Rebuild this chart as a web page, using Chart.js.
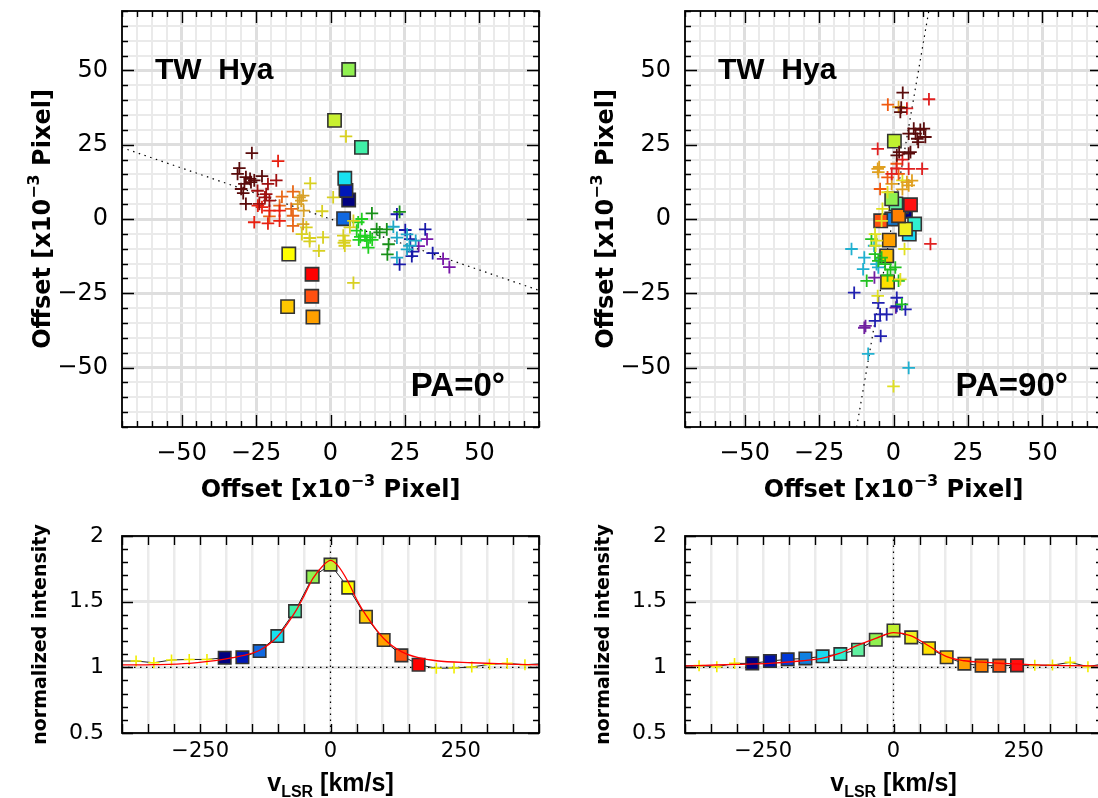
<!DOCTYPE html>
<html>
<head>
<meta charset="utf-8">
<title>TW Hya spectro-astrometry</title>
<script src="https://cdn.jsdelivr.net/npm/chart.js@4.4.1/dist/chart.umd.min.js"></script>
<style>
  html, body { margin: 0; padding: 0; background: #fff; overflow: hidden; width: 1098px; height: 798px; }
  canvas { position: absolute; }
</style>
</head>
<body>
<canvas id="tl" width="560" height="520" style="left:0;top:0"></canvas>
<canvas id="tr" width="560" height="520" style="left:563px;top:0"></canvas>
<canvas id="bl" width="560" height="278" style="left:0;top:520px"></canvas>
<canvas id="br" width="560" height="278" style="left:563px;top:520px"></canvas>
<script>
// ---- velocity-channel colours (blue -> red) ----
const blSqColors = ['#000080', '#0018b8', '#1068e0', '#18e0f0', '#40f0a8', '#90f050',
                    '#c8f030', '#ffff00', '#ffc800', '#ffa000', '#ff5010', '#ff0000'];
const brSqColors = ['#000080', '#0010a8', '#0038d8', '#1080e0', '#18d8f0', '#30f0d0', '#60f0a0', '#90f050',
                    '#c0f030', '#f0f020', '#ffe000', '#ffc000', '#ffa000', '#ff8000', '#ff5010', '#ff1010'];

// ---- PA=0 : offsets [x1e-3 pixel] ----
const tlSqX = [6.1, 5.2, 4.4, 4.8, 10.4, 6.1, 1.35, -14, -14.4, -5.9, -6.3, -6.2];
const tlSqY = [6.4, 9.6, 0.1, 13.7, 24.1, 50.3, 33.2, -11.8, -29.5, -33, -26, -18.6];
const tlMaroon = [[-26.4, 22.2], [-30.6, 17.1], [-31.2, 15.2], [-28.4, 14.1], [-27, 13.5], [-23, 14.4],
                  [-28.9, 11.8], [-29.3, 8.7], [-28.4, 5.1], [-25.6, 13], [-26.7, 12.4], [-30, 10.1]];
const tlDarkRed = [[-21, 11.8], [-21.6, 8.4], [-23.9, 5.1], [-20.5, 6.2], [-22, 7.3], [-18.2, 13], [-24.5, 9.5]];
const tlRed = [[-17.6, 19.5], [-25.6, -1.1], [-21, -1.5], [-24.4, 4.5], [-17.1, -0.6], [-17.1, 2.8],
               [-20.5, 2.8], [-23, 4]];
const tlOrange = [[-16.3, 7.5], [-12.6, 9.2], [-20.5, 0.9], [-13.2, 3.4], [-12.6, 1.1], [-12.6, -2.3], [-17.1, 4.5]];
const tlGold = [[-10.4, 7.3], [-9.2, 7.9], [-9.8, 6.2], [-9, 2.8], [-9.2, -1.7], [-11, 5]];
const tlYellow = [[-6.8, 12], [-2.8, 2.6], [-9.6, -5.1], [-7, -6.4], [-2.5, -6.2], [-3.9, -10.7], [0.9, 7.3],
                  [5.2, 27.8], [4.8, -7.3], [4.8, -9], [4.3, -5.6], [7.7, -21.5], [7.7, -0.6], [6.5, -2.8],
                  [-8.1, -2.8], [-7, -7.5], [4.5, -8]];
const tlGreen = [[10.5, 0], [9.3, -1.1], [13.3, -6.2], [12.2, -7.3], [12.7, -9.6], [8.8, -3.9], [11.6, -5.6],
                 [10, -6], [14, -7], [9.5, -7]];
const tlDkGreen = [[13.9, 1.9], [15.5, -3.4], [19.1, -11.9], [23.2, 2.4], [19.5, -8.5], [18.9, -3.5], [16.5, -4.5]];
const tlTeal = [[21.1, -2.6], [22.3, -13], [22.3, -6.3], [25.7, -10.2], [28.6, -7.3], [25.7, -5.2], [26.5, -9]];
const tlBlue = [[22.3, 1.6], [25.1, -3.7], [23.2, -15.3], [27.3, -12.5], [31.8, -3.5], [34.3, -11.5],
                [26.8, -6.8], [27.5, -11]];
const tlPurple = [[32.4, -6.8], [29.6, -9.1], [37.8, -13.4], [39.9, -16.2]];
const tlAxisX = [-72, 72];
const tlAxisY = [24.7, -24.7];

// ---- PA=90 ----
const trSqX = [4, 1.7, 2.7, -0.6, 5.3, 7.1, 0.8, -0.6, 0.3, 4, -2, -2.3, -1.4, 1.7, -4.3, 5.7];
const trSqY = [2.6, 3.4, 4.1, 0, -5.1, -1.7, 5.1, 6.8, 26.2, -3.4, -21.2, -12.4, -7.1, 1.1, -0.6, 4.8];
const trMaroon = [[3.1, 42.5], [2.3, 36], [2.6, 37.5], [6.8, 30.4], [10.2, 30.4], [7.4, 28.7], [10.7, 27.6],
                  [8.3, 25.9], [5.1, 28.7], [5.7, 22.5], [5.1, 22], [1.1, 21.4], [1.9, 22.5], [9, 30], [8, 27]];
const trRed = [[11.9, 40.3], [-5.3, 23.6], [9.6, 16.9], [12.4, -8.4], [5.1, 16.9], [-0.6, 15.2], [4.5, 37.2],
               [3, 20], [1, 17]];
const trOrange = [[-1.9, 38.5], [1.1, 18.6], [-4.5, 10.1], [1.7, 15.2], [-2, 14]];
const trGold = [[-5.3, 16.9], [-5.1, 15.8], [5.1, 11.3], [4.5, 12.4], [6.2, 12.9], [1.7, 37.7], [-0.6, 11.8],
                [-4.8, 17.5], [3, 10]];
const trYellow = [[-3.7, 3.4], [-4, -0.6], [3.7, -10.1], [-6.2, -5.1], [2.3, -20.3], [0, -56.3], [-5.3, -25.9],
                  [-5.7, -7.3], [-2, 9], [3, 13], [-6, -9]];
const trGreen = [[-7.4, -6.8], [-6.2, -11.8], [-2.8, -15.2], [0.6, -16.3], [-9, -20.8], [1.7, -20.8],
                 [-5.1, -14.1], [-1, -17], [2.8, -28.7], [-4, -13], [-2, -19]];
const trCyan = [[-14.1, -10.1], [-9.8, -13], [-10.2, -16.9], [-5.1, -16.3], [-8.5, -45.4], [5.1, -50.1],
                [-5.7, -15.2], [-6.5, -9]];
const trBlue = [[-13.2, -24.8], [-5.1, -28.2], [1.1, -26.5], [4, -30.4], [-6.2, -34.3], [-4.5, -32.1],
                [-2.3, -32.1], [-4.3, -39.4], [1.1, -29.3]];
const trPurple = [[-9.8, -36.6], [-6.4, -19.7], [0.8, -29.8], [-9.4, -36]];
const trAxisX = [-12.7, 12.2];
const trAxisY = [-72, 72];

// ---- spectra: v_LSR [km/s] vs normalized intensity ----
const blSqVel = [-203, -169, -136, -102, -68, -34, 0, 34, 68, 102, 136, 169];
const blSqFlux = [1.073, 1.076, 1.124, 1.238, 1.428, 1.689, 1.782, 1.607, 1.385, 1.208, 1.091, 1.02];
const blCrossVel = [-373, -339, -305, -271, -237, 203, 237, 271, 305, 339, 373];
const blCrossFlux = [1.048, 1.035, 1.056, 1.06, 1.06, 0.993, 0.995, 1.003, 1.023, 1.03, 1.02];
const blEdgeVel = [-407, 407];
const blEdgeFlux = [1.048, 1.028];
const blFitVel = [-400, -339, -271, -203, -169, -136, -102, -68, -50, -34, -14, 0, 13, 34, 51, 68, 102, 136, 169, 203, 271, 339, 400];
const blFitFlux = [1.018, 1.02, 1.03, 1.063, 1.089, 1.13, 1.233, 1.42, 1.55, 1.675, 1.776, 1.815, 1.78, 1.65, 1.51,
                   1.397, 1.22, 1.12, 1.073, 1.05, 1.035, 1.025, 1.018];

const brSqVel = [-271, -237, -203, -169, -136, -102, -68, -34, 0, 34, 68, 102, 136, 169, 203, 237];
const brSqFlux = [1.03, 1.048, 1.061, 1.068, 1.084, 1.101, 1.134, 1.21, 1.281, 1.228, 1.145, 1.077, 1.028, 1.013,
                  1.013, 1.015];
const brCrossVel = [-373, -339, -305, 271, 305, 339, 373];
const brCrossFlux = [1.013, 1.005, 1.03, 1.015, 1.017, 1.038, 1.005];
const brEdgeVel = [-407, 407];
const brEdgeFlux = [1.012, 1.03];
const brFitVel = [-400, -375, -302, -238, -174, -138, -104, -70, -34, 0, 34, 68, 102, 136, 169, 203, 237, 275, 340, 400];
const brFitFlux = [1.01, 1.013, 1.023, 1.03, 1.05, 1.068, 1.106, 1.165, 1.22, 1.265, 1.24, 1.162, 1.082, 1.05,
                   1.039, 1.031, 1.026, 1.018, 1.013, 1.011];

const specYTicks = [0.5, 0.6, 0.7, 0.8, 0.9, 1, 1.1, 1.2, 1.3, 1.4, 1.5, 1.6, 1.7, 1.8, 1.9, 2];
const refFlux = 1;
const refVel = 0;

const FONT = '"Liberation Sans", Arial, Helvetica, sans-serif';
const WIDE = '"DejaVu Sans", Verdana, sans-serif';
Chart.defaults.font.family = WIDE;
Chart.defaults.color = '#000';

const zip = (xs, ys) => xs.map((x, i) => ({ x, y: ys[i] }));
const pairs = arr => arr.map(p => ({ x: p[0], y: p[1] }));
const minus = v => (v < 0 ? '\u2212' + Math.abs(v) : String(v));
const near = (v, m) => Math.abs(v / m - Math.round(v / m)) < 1e-6;

// per-panel decorations
const panelText = {
  tl: { kind: 'top', pa: 'PA=0\u00b0' },
  tr: { kind: 'top', pa: 'PA=90\u00b0' },
  bl: { kind: 'spec' },
  br: { kind: 'spec' }
};

function drawRich(ctx, segs, x, y, rotate) {
  ctx.save();
  ctx.translate(x, y);
  if (rotate) ctx.rotate(-Math.PI / 2);
  let w = 0;
  segs.forEach(s => { ctx.font = s.f; s.w = ctx.measureText(s.t).width; w += s.w; });
  let cx = -w / 2;
  ctx.fillStyle = '#000';
  ctx.textAlign = 'left';
  ctx.textBaseline = 'alphabetic';
  segs.forEach(s => { ctx.font = s.f; ctx.fillText(s.t, cx, s.dy || 0); cx += s.w; });
  ctx.restore();
}

const offsetTitle = () => [
  { t: 'Offset [x10', f: 'bold 24px ' + WIDE },
  { t: '\u22123', f: 'bold 16px ' + WIDE, dy: -11 },
  { t: ' Pixel]', f: 'bold 24px ' + WIDE }
];

const frameTicks = {
  id: 'frameTicks',
  afterDraw(chart) {
    const cfg = panelText[chart.canvas.id];
    const { ctx, chartArea: a, scales: { x, y } } = chart;
    const top = cfg.kind === 'top';
    ctx.save();
    ctx.strokeStyle = '#000';
    ctx.lineWidth = 1.4;
    ctx.beginPath();
    x.ticks.forEach(t => {
      const px = Math.round(x.getPixelForValue(t.value)) + 0.5;
      const len = top ? (near(t.value, 25) ? 12 : 6) : 9;
      ctx.moveTo(px, a.bottom); ctx.lineTo(px, a.bottom - len);
      ctx.moveTo(px, a.top); ctx.lineTo(px, a.top + len);
    });
    y.ticks.forEach(t => {
      const py = Math.round(y.getPixelForValue(t.value)) + 0.5;
      const len = top ? (near(t.value, 25) ? 12 : 6) : (near(t.value, 0.5) ? 11 : 6);
      ctx.moveTo(a.left, py); ctx.lineTo(a.left + len, py);
      ctx.moveTo(a.right, py); ctx.lineTo(a.right - len, py);
    });
    ctx.stroke();
    ctx.lineWidth = 1.8;
    ctx.strokeRect(a.left, a.top, a.right - a.left, a.bottom - a.top);

    const cx = (a.left + a.right) / 2;
    const cy = (a.top + a.bottom) / 2;
    ctx.fillStyle = '#000';
    if (top) {
      ctx.font = 'bold 30px ' + FONT;
      ctx.textAlign = 'left';
      ctx.textBaseline = 'alphabetic';
      ctx.fillText('TW  Hya', a.left + 33, a.top + 68);
      ctx.font = 'bold 33px ' + FONT;
      ctx.textAlign = 'right';
      ctx.fillText(cfg.pa, a.right - 34, a.bottom - 31);
      drawRich(ctx, offsetTitle(), cx, a.bottom + 70, false);
      drawRich(ctx, offsetTitle(), a.left - 72, cy, true);
    } else {
      drawRich(ctx, [
        { t: 'v', f: 'bold 25px ' + FONT },
        { t: 'LSR', f: 'bold 16px ' + FONT, dy: 6 },
        { t: ' [km/s]', f: 'bold 25px ' + FONT }
      ], cx, a.bottom + 58, false);
      drawRich(ctx, [{ t: 'normalized intensity', f: 'bold 19px ' + WIDE }], a.left - 76, cy, true);
    }
    ctx.restore();
  }
};

function scaleOpts(kind, axis) {
  if (kind === 'top') {
    return {
      type: 'linear', min: -70, max: 70,
      ticks: {
        stepSize: 5, autoSkip: false, maxRotation: 0, minRotation: 0,
        padding: axis === 'x' ? 12 : 14,
        font: { size: 24 }, color: '#000',
        callback: v => (near(v, 25) ? minus(v) : '')
      },
      grid: {
        drawTicks: false,
        color: c => (c.tick && near(c.tick.value, 25) ? '#dedede' : '#eaeaea'),
        lineWidth: c => (c.tick && near(c.tick.value, 25) ? 3 : 2)
      },
      border: { display: false },
      afterFit: s => {
        if (axis === 'x') s.height = 93; else s.width = 122;
        s.paddingLeft = s.paddingRight = s.paddingTop = s.paddingBottom = 0;
      }
    };
  }
  if (axis === 'x') {
    return {
      type: 'linear', min: -400, max: 400,
      ticks: {
        stepSize: 50, autoSkip: false, maxRotation: 0, minRotation: 0, padding: 6,
        font: { size: 21 }, color: '#000',
        callback: v => (near(v, 250) ? minus(v) : '')
      },
      grid: { drawTicks: false, color: '#ebebeb', lineWidth: 2.5 },
      border: { display: false },
      afterFit: s => { s.height = 65; s.paddingLeft = s.paddingRight = s.paddingTop = s.paddingBottom = 0; }
    };
  }
  return {
    type: 'linear', min: 0.5, max: 2,
    afterBuildTicks: s => { s.ticks = specYTicks.map(v => ({ value: v })); },
    ticks: {
      autoSkip: false, padding: 18, font: { size: 22 }, color: '#000',
      callback: v => (near(v, 0.5) ? String(v) : '')
    },
    grid: {
      drawTicks: false,
      color: c => (c.tick && near(c.tick.value, 0.5) ? '#e6e6e6' : 'rgba(0,0,0,0)'),
      lineWidth: 3
    },
    border: { display: false },
    afterFit: s => { s.width = 122; s.paddingLeft = s.paddingRight = s.paddingTop = s.paddingBottom = 0; }
  };
}

function baseOptions(kind) {
  return {
    responsive: false,
    animation: false,
    events: [],
    layout: { padding: kind === 'top' ? { left: 0, top: 9, right: 21, bottom: 0 } : { left: 0, top: 16, right: 21, bottom: 0 } },
    plugins: { legend: { display: false }, tooltip: { enabled: false } },
    scales: { x: scaleOpts(kind, 'x'), y: scaleOpts(kind, 'y') }
  };
}

const dotted = (data) => ({
  data, showLine: true, pointRadius: 0, borderColor: '#000', borderWidth: 1.2,
  borderDash: [1.5, 4.5], fill: false, order: 6
});

function offsetChart(id, sqX, sqY, sqColors, groups, axX, axY) {
  const datasets = [dotted(zip(axX, axY))];
  datasets.push({
    data: zip(sqX, sqY), pointStyle: 'rect', pointRadius: 9.4,
    backgroundColor: sqColors, borderColor: '#333', borderWidth: 1.6, order: 3
  });
  groups.forEach(([pts, col]) => datasets.push({
    data: pairs(pts), pointStyle: 'cross', pointRadius: 6.3,
    borderColor: col, backgroundColor: col, borderWidth: 1.8, order: 2
  }));
  new Chart(document.getElementById(id), {
    type: 'scatter', data: { datasets }, options: baseOptions('top'), plugins: [frameTicks]
  });
}

function specChart(id, sqV, sqF, sqColors, crV, crF, edV, edF, fitV, fitF) {
  const all = zip(sqV, sqF).concat(zip(crV, crF), zip(edV, edF)).sort((a, b) => a.x - b.x);
  const datasets = [
    dotted([{ x: -400, y: refFlux }, { x: 400, y: refFlux }]),
    dotted([{ x: refVel, y: 0.5 }, { x: refVel, y: 2 }]),
    { data: all, showLine: true, pointRadius: 0, borderColor: '#222', borderWidth: 1, fill: false, order: 5 },
    { data: zip(sqV, sqF), pointStyle: 'rect', pointRadius: 8.8,
      backgroundColor: sqColors, borderColor: '#333', borderWidth: 1.6, order: 3 },
    { data: zip(crV, crF), pointStyle: 'cross', pointRadius: 5.5,
      borderColor: '#f2ee00', borderWidth: 1.6, order: 2 },
    { data: zip(fitV, fitF), showLine: true, pointRadius: 0, borderColor: '#ff0000', borderWidth: 1.3,
      cubicInterpolationMode: 'monotone', fill: false, order: 1 }
  ];
  new Chart(document.getElementById(id), {
    type: 'scatter', data: { datasets }, options: baseOptions('spec'), plugins: [frameTicks]
  });
}

offsetChart('tl', tlSqX, tlSqY, blSqColors, [
  [tlMaroon, '#5a0c0c'], [tlDarkRed, '#a01010'], [tlRed, '#e82010'], [tlOrange, '#e86818'],
  [tlGold, '#d8a028'], [tlYellow, '#d8d020'], [tlGreen, '#20d020'], [tlDkGreen, '#189018'],
  [tlTeal, '#20a8c8'], [tlBlue, '#1818a8'], [tlPurple, '#7818a8']
], tlAxisX, tlAxisY);

offsetChart('tr', trSqX, trSqY, brSqColors, [
  [trMaroon, '#5a0c0c'], [trRed, '#e02020'], [trOrange, '#f05a10'], [trGold, '#e0a020'],
  [trYellow, '#e0e020'], [trGreen, '#20c020'], [trCyan, '#20b0d0'], [trBlue, '#2020b0'], [trPurple, '#7020a0']
], trAxisX, trAxisY);

specChart('bl', blSqVel, blSqFlux, blSqColors, blCrossVel, blCrossFlux, blEdgeVel, blEdgeFlux, blFitVel, blFitFlux);
specChart('br', brSqVel, brSqFlux, brSqColors, brCrossVel, brCrossFlux, brEdgeVel, brEdgeFlux, brFitVel, brFitFlux);
</script>
</body>
</html>
